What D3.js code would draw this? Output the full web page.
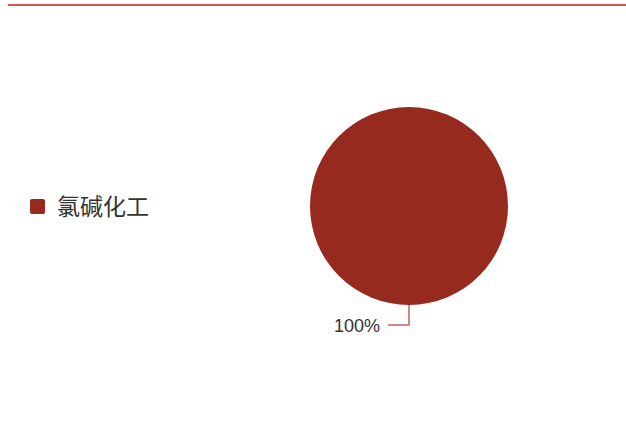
<!DOCTYPE html>
<html><head><meta charset="utf-8">
<script src="https://cdn.jsdelivr.net/npm/d3@7"></script>
<style>body{margin:0;background:#fff}</style>
</head><body>
<svg id="c" width="626" height="421"></svg>
<script>
const categories = ["氯碱化工"];
const values = [100];
const colors = ["#962a1f"];

const svg = d3.select("#c");
svg.append("rect").attr("x",8).attr("y",4).attr("width",618).attr("height",2).attr("fill","#d9534f");

const cx = 409, cy = 206, r = 99;
const pie = d3.pie().sort(null).value(d=>d)(values);
const arc = d3.arc().innerRadius(0).outerRadius(r);
const g = svg.append("g").attr("transform",`translate(${cx},${cy})`);
g.selectAll("path").data(pie).join("path").attr("d",arc).attr("fill",(d,i)=>colors[i]);

const total = d3.sum(values);
pie.forEach((d,i)=>{
  const mid = (d.startAngle+d.endAngle)/2;
  const p0 = [Math.sin(mid)*r, -Math.cos(mid)*r];
  const p1 = [p0[0], p0[1]+20];
  const p2 = [p1[0]-21, p1[1]];
  g.append("polyline").attr("points",[p0,p1,p2].map(p=>p.join(",")).join(" "))
   .attr("fill","none").attr("stroke","#c8605a").attr("stroke-width",1.5);
  g.append("text").attr("x",p2[0]-8).attr("y",p2[1]+7).attr("text-anchor","end")
   .attr("font-family","Liberation Sans, Arial, sans-serif").attr("font-size",18).attr("fill","#333")
   .text(Math.round(d.value/total*100)+"%");
});

const leg = svg.append("g").attr("transform","translate(30,199)");
categories.forEach((c,i)=>{
  leg.append("rect").attr("x",0).attr("y",i*30).attr("width",15).attr("height",15).attr("rx",2).attr("fill",colors[i]);
  leg.append("text").attr("x",27).attr("y",i*30+16).attr("font-family","Noto Sans CJK SC, sans-serif")
    .attr("font-size",23).attr("fill","#333").text(c);
});
</script>
</body></html>
